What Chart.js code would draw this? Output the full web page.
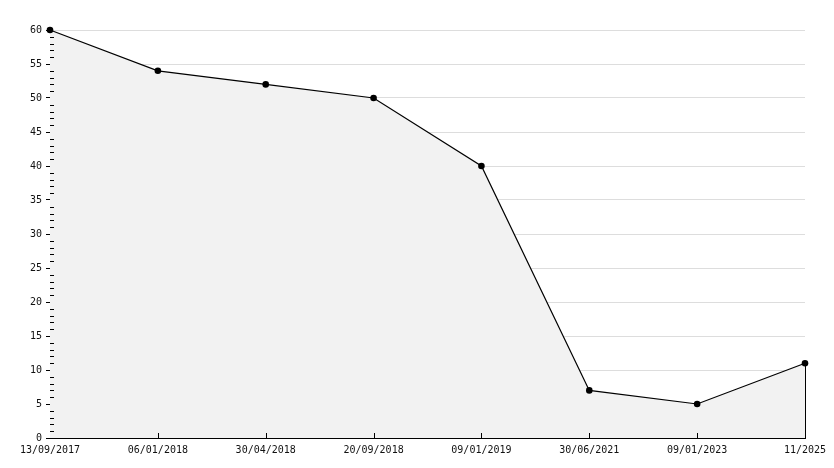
<!DOCTYPE html>
<html>
<head>
<meta charset="utf-8">
<script src="https://cdn.jsdelivr.net/npm/chart.js@4/dist/chart.umd.min.js"></script>
<style>
  html, body { margin: 0; padding: 0; background: #fff; }
  #wrap { width: 834px; height: 468px; }
</style>
</head>
<body>
<div id="wrap"><canvas id="chart" width="834" height="468"></canvas></div>
<script>
// Données
const dates = ['13/09/2017', '06/01/2018', '30/04/2018', '20/09/2018', '09/01/2019', '30/06/2021', '09/01/2023', '11/2025'];
const values = [60, 54, 52, 50, 40, 7, 5, 11];
const yMin = 0;
const yMax = 60;
const majorStep = 5;

// Petites graduations et bord droit de la zone
const axisExtras = {
    id: 'axisExtras',
    afterDraw(chart) {
        const ctx = chart.ctx;
        const x = chart.scales.x;
        const y = chart.scales.y;
        const area = chart.chartArea;
        ctx.save();
        ctx.strokeStyle = '#000';
        ctx.lineWidth = 1;
        ctx.beginPath();
        // graduations mineures (vers l'intérieur)
        y.ticks.forEach(t => {
            if (t.value % majorStep !== 0) {
                const py = Math.round(y.getPixelForValue(t.value)) + 0.5;
                ctx.moveTo(area.left, py);
                ctx.lineTo(area.left + 4, py);
            }
        });
        // graduations de l'axe X (vers le haut)
        for (let i = 1; i < dates.length - 1; i++) {
            const px = Math.round(x.getPixelForValue(i)) + 0.5;
            ctx.moveTo(px, area.bottom);
            ctx.lineTo(px, area.bottom - 5);
        }
        // bord droit de la surface
        const last = dates.length - 1;
        const rx = Math.round(x.getPixelForValue(last)) + 0.5;
        ctx.moveTo(rx, y.getPixelForValue(values[last]));
        ctx.lineTo(rx, area.bottom);
        ctx.stroke();
        ctx.restore();
    }
};

const ctx = document.getElementById('chart').getContext('2d');
new Chart(ctx, {
    type: 'line',
    data: {
        labels: dates,
        datasets: [{
            data: values,
            clip: false,
            borderColor: '#000',
            borderWidth: 1.2,
            backgroundColor: '#f2f2f2',
            fill: 'origin',
            tension: 0,
            pointStyle: 'circle',
            pointRadius: 3.3,
            pointBackgroundColor: '#000',
            pointBorderColor: '#000',
            pointBorderWidth: 0
        }]
    },
    options: {
        responsive: false,
        animation: false,
        layout: { padding: { top: 30, right: 29, left: 0, bottom: 0 } },
        plugins: {
            legend: { display: false },
            tooltip: { enabled: false }
        },
        scales: {
            x: {
                type: 'category',
                offset: false,
                grid: { display: false, drawTicks: false },
                border: { display: true, color: '#000', width: 1 },
                ticks: {
                    color: '#111',
                    font: { family: 'DejaVu Sans Mono', size: 10 },
                    padding: 6,
                    maxRotation: 0,
                    autoSkip: false
                },
                afterFit(scale) {
                    scale.paddingLeft = 0;
                    scale.paddingRight = 0;
                    scale.height = 30;
                }
            },
            y: {
                min: yMin,
                max: yMax,
                grid: {
                    color: c => (c.tick && c.tick.value % majorStep === 0 && c.tick.value !== 0) ? '#dddddd' : 'rgba(0,0,0,0)',
                    tickColor: c => (c.tick && c.tick.value % majorStep === 0) ? '#000' : 'rgba(0,0,0,0)',
                    tickLength: 4,
                    lineWidth: 1
                },
                border: { display: true, color: '#000', width: 1 },
                ticks: {
                    stepSize: 1,
                    autoSkip: false,
                    color: '#111',
                    font: { family: 'DejaVu Sans Mono', size: 10 },
                    padding: 4,
                    callback: v => (v % majorStep === 0 ? String(v) : '')
                },
                afterFit(scale) {
                    scale.width = 50;
                }
            }
        }
    },
    plugins: [axisExtras]
});
</script>
</body>
</html>
